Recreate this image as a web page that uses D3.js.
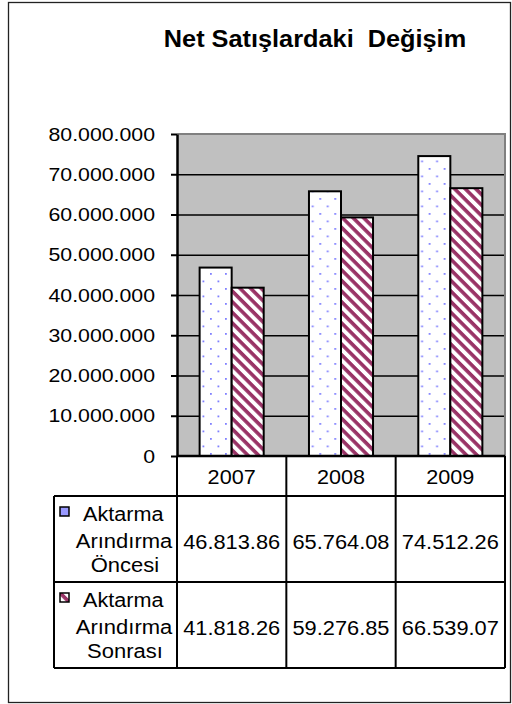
<!DOCTYPE html>
<html>
<head>
<meta charset="utf-8">
<script src="https://cdn.jsdelivr.net/npm/d3@7"></script>
<style>
  body { margin: 0; background: #fff; }
  text { font-family: "Liberation Sans", Arial, sans-serif; fill: #000; }
</style>
</head>
<body>
<div id="chart"></div>
<script>
// data
var years = ["2007", "2008", "2009"];
var seriesNames = [["Aktarma", "Arındırma", "Öncesi"], ["Aktarma", "Arındırma", "Sonrası"]];
var before = [46813860, 65764080, 74512260];
var after = [41818260, 59276850, 66539070];
var beforeLabels = ["46.813.86", "65.764.08", "74.512.26"];
var afterLabels = ["41.818.26", "59.276.85", "66.539.07"];
var yTicks = [0, 10000000, 20000000, 30000000, 40000000, 50000000, 60000000, 70000000, 80000000];

var W = 512, H = 704;
var plot = {left: 177, right: 505, top: 134, bottom: 456};
var tableLeft = 54, headerBottom = 496, tableBottom = 668;

var svg = d3.select("#chart").append("svg")
    .attr("width", W)
    .attr("height", H);

// stretch text a bit wider, like the original rendering
function widen(sel, k) {
  sel.each(function() {
    var w = this.getComputedTextLength();
    d3.select(this).attr("textLength", w * k).attr("lengthAdjust", "spacingAndGlyphs");
  });
}

// patterns
var defs = svg.append("defs");
var dots = defs.append("pattern")
    .attr("id", "dots")
    .attr("patternUnits", "userSpaceOnUse")
    .attr("width", 15).attr("height", 15);
dots.append("rect").attr("width", 15).attr("height", 15).attr("fill", "#fff");
dots.append("rect").attr("x", 3).attr("y", 3).attr("width", 1.8).attr("height", 1.8).attr("fill", "#8080ff");
dots.append("rect").attr("x", 10.5).attr("y", 10.5).attr("width", 1.8).attr("height", 1.8).attr("fill", "#8080ff");

var stripes = defs.append("pattern")
    .attr("id", "stripes")
    .attr("patternUnits", "userSpaceOnUse")
    .attr("width", 7.5).attr("height", 7.5)
    .attr("patternTransform", "rotate(45)");
stripes.append("rect").attr("width", 7.5).attr("height", 7.5).attr("fill", "#fff");
stripes.append("rect").attr("x", 0).attr("y", 0).attr("width", 7.5).attr("height", 3.6).attr("fill", "#993366");

// outer frame
svg.append("rect")
    .attr("x", 8.5).attr("y", 2.5)
    .attr("width", 502).attr("height", 700)
    .attr("fill", "none")
    .attr("stroke", "#222")
    .attr("stroke-width", 1.3);

// title
svg.append("text")
    .attr("x", 315).attr("y", 47)
    .attr("text-anchor", "middle")
    .attr("font-size", 23)
    .attr("font-weight", "bold")
    .style("white-space", "pre")
    .text("Net Satışlardaki  Değişim")
    .call(widen, 1.1);

// scales
var x0 = d3.scaleBand().domain(years).range([plot.left, plot.right]).padding(0);
var x1 = d3.scaleBand().domain([0, 1])
    .range([x0.bandwidth() * 0.207, x0.bandwidth() * 0.793]).padding(0);
var y = d3.scaleLinear().domain([0, 80000000]).range([plot.bottom, plot.top]);

// plot area
svg.append("rect")
    .attr("x", plot.left).attr("y", plot.top)
    .attr("width", plot.right - plot.left)
    .attr("height", plot.bottom - plot.top)
    .attr("fill", "#c0c0c0");

// gridlines
svg.append("g")
    .attr("transform", "translate(" + plot.left + ",0)")
    .call(d3.axisLeft(y).tickValues(yTicks.slice(1, -1)).tickSize(-(plot.right - plot.left)).tickFormat(""))
    .call(function(g) { g.select(".domain").remove(); })
    .selectAll("line")
    .attr("stroke", "#000")
    .attr("stroke-width", 1.6);

// bars
var groups = svg.append("g").selectAll("g")
    .data(years)
    .enter().append("g")
    .attr("transform", function(d) { return "translate(" + x0(d) + ",0)"; });

groups.selectAll("rect")
    .data(function(d, i) { return [{s: 0, v: before[i]}, {s: 1, v: after[i]}]; })
    .enter().append("rect")
    .attr("x", function(d) { return x1(d.s); })
    .attr("y", function(d) { return y(d.v); })
    .attr("width", x1.bandwidth())
    .attr("height", function(d) { return y(0) - y(d.v); })
    .attr("fill", function(d) { return d.s === 0 ? "url(#dots)" : "url(#stripes)"; })
    .attr("stroke", "#000")
    .attr("stroke-width", 2);

// gray border top and right
svg.append("path")
    .attr("d", "M" + plot.left + "," + plot.top + "H" + plot.right + "V" + plot.bottom)
    .attr("fill", "none")
    .attr("stroke", "#808080")
    .attr("stroke-width", 2);

// y axis
var fmt = d3.formatLocale({decimal: ",", thousands: ".", grouping: [3], currency: ["", ""]}).format(",");
var yAxis = svg.append("g")
    .attr("transform", "translate(" + plot.left + ",0)")
    .call(d3.axisLeft(y).tickValues(yTicks).tickSize(6).tickSizeOuter(0).tickPadding(16).tickFormat(fmt));
yAxis.select(".domain").attr("stroke", "#000").attr("stroke-width", 2.5);
yAxis.selectAll(".tick line").attr("stroke", "#000").attr("stroke-width", 2);
yAxis.selectAll("text")
    .attr("font-size", 19)
    .attr("font-family", "'Liberation Sans', Arial, sans-serif")
    .attr("fill", "#000")
    .call(widen, 1.12);

// table
var rows = d3.scaleBand().domain([0, 1]).range([headerBottom, tableBottom]);
var table = svg.append("g")
    .attr("stroke", "#000")
    .attr("stroke-width", 2);

// zero line
table.append("line")
    .attr("x1", plot.left).attr("x2", plot.right)
    .attr("y1", y(0)).attr("y2", y(0))
    .attr("stroke-width", 2.5);

// horizontal rules
table.selectAll("line.h")
    .data([headerBottom, rows(1), tableBottom])
    .enter().append("line")
    .attr("class", "h")
    .attr("x1", tableLeft).attr("x2", plot.right)
    .attr("y1", function(d) { return d; }).attr("y2", function(d) { return d; });

// vertical rules
table.selectAll("line.v")
    .data(years.map(function(d) { return x0(d); }).concat([plot.right]))
    .enter().append("line")
    .attr("class", "v")
    .attr("x1", function(d) { return d; }).attr("x2", function(d) { return d; })
    .attr("y1", y(0)).attr("y2", tableBottom);

table.append("line")
    .attr("x1", tableLeft).attr("x2", tableLeft)
    .attr("y1", headerBottom).attr("y2", tableBottom);

// year headers
svg.append("g").selectAll("text")
    .data(years)
    .enter().append("text")
    .attr("x", function(d) { return x0(d) + x0.bandwidth() / 2; })
    .attr("y", 484)
    .attr("text-anchor", "middle")
    .attr("font-size", 20)
    .text(function(d) { return d; })
    .call(widen, 1.08);

// values
var valueRows = [beforeLabels, afterLabels];
valueRows.forEach(function(labels, r) {
  svg.append("g").selectAll("text")
      .data(labels)
      .enter().append("text")
      .attr("x", function(d, i) { return x0(years[i]) + x0.bandwidth() / 2; })
      .attr("y", rows(r) + 53)
      .attr("text-anchor", "middle")
      .attr("font-size", 20)
      .text(function(d) { return d; })
      .call(widen, 1.09);
});

// row headers with legend keys
seriesNames.forEach(function(lines, r) {
  var top = rows(r);
  svg.append("rect")
      .attr("x", 60).attr("y", top + 11)
      .attr("width", 9).attr("height", 9)
      .attr("fill", r === 0 ? "#9999ff" : "url(#stripes)")
      .attr("stroke", "#000")
      .attr("stroke-width", 1.5);
  svg.append("text")
      .attr("x", 83).attr("y", top + 25)
      .attr("font-size", 20)
      .text(lines[0])
      .call(widen, 1.08);
  svg.append("text")
      .attr("x", 124).attr("y", top + 52)
      .attr("text-anchor", "middle")
      .attr("font-size", 20)
      .text(lines[1])
      .call(widen, 1.1);
  svg.append("text")
      .attr("x", 125).attr("y", top + 76)
      .attr("text-anchor", "middle")
      .attr("font-size", 20)
      .text(lines[2])
      .call(widen, 1.1);
});
</script>
</body>
</html>
